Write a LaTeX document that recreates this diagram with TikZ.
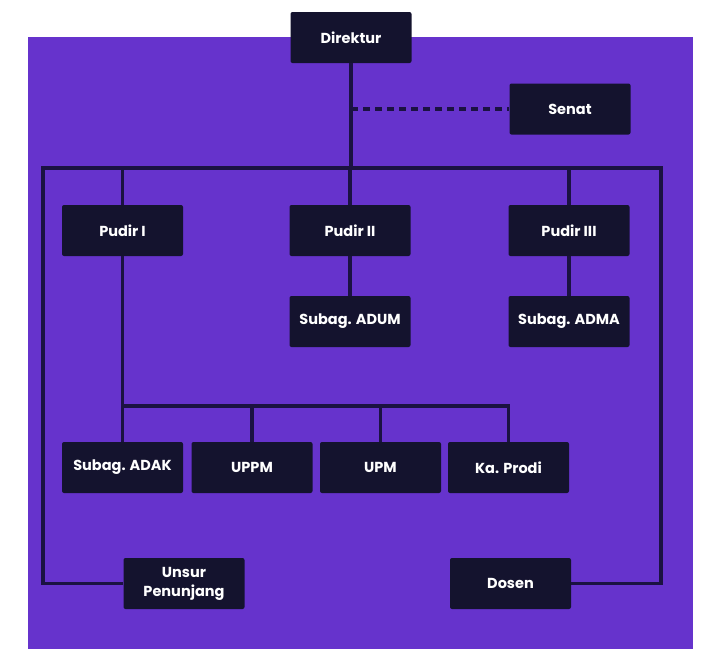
\documentclass[tikz,border=0pt]{standalone}
\usepackage{fontspec}
\setmainfont{Poppins}
\definecolor{bgpurple}{HTML}{6633CC}
\definecolor{boxnavy}{HTML}{14132E}
\definecolor{linenavy}{HTML}{1B1242}
\tikzset{
  unit/.style={fill=boxnavy, text=white, rounded corners=2pt,
    minimum width=121pt, minimum height=51pt, inner sep=2pt,
    font=\bfseries\fontsize{14.5}{19}\selectfont, align=center},
  link/.style={draw=linenavy, line width=3.2pt}
}
\begin{document}
\begin{tikzpicture}[x=1pt,y=-1pt]
  \useasboundingbox (0,0) rectangle (720,662);
  \fill[white] (0,0) rectangle (720,662);
  \fill[bgpurple] (28,37) rectangle (693,649);

  % top
  \node[unit] (dir) at (351,37.5) {Direktur};
  \node[unit] (senat) at (570,109) {Senat};

  % pudir row
  \node[unit] (pudir1) at (122.5,230.5) {Pudir I};
  \node[unit] (pudir2) at (350,230.5) {Pudir II};
  \node[unit] (pudir3) at (569,230.5) {Pudir III};
  \node[unit] (adum) at (350,321.5) {Subag. ADUM};
  \node[unit] (adma) at (569,321.5) {Subag. ADMA};

  % under pudir I
  \node[unit] (adak) at (122.5,467.5) {Subag. ADAK};
  \node[unit] (uppm) at (252,467.5) {UPPM};
  \node[unit] (upm) at (380.5,467.5) {UPM};
  \node[unit] (prodi) at (508.5,467.5) {Ka. Prodi};

  \node[unit] (unsur) at (184,583.5) {Unsur\\Penunjang};
  \node[unit] (dosen) at (510.5,583.5) {Dosen};

  \coordinate (hub) at (351,168);
  \coordinate (lft) at (43,168);
  \coordinate (rgt) at (661,168);
  \coordinate (lowbus) at (122.5,406);

  \draw[link] (dir.south) -- (hub);
  \draw[link, dash pattern=on 7pt off 5pt] (dir.south |- senat.west) -- (senat.west);
  \draw[link] (unsur.west) -| (lft) -- (rgt) |- (dosen.east);
  \draw[link] (pudir1.north |- hub) -- (pudir1.north);
  \draw[link] (pudir2.north |- hub) -- (pudir2.north);
  \draw[link] (pudir3.north |- hub) -- (pudir3.north);
  \draw[link] (pudir2) -- (adum);
  \draw[link] (pudir3) -- (adma);

  \draw[link] (pudir1.south) -- (adak.north);
  \draw[link] (lowbus) -| (prodi.north);
  \draw[link] (uppm.north |- lowbus) -- (uppm.north);
  \draw[link] (upm.north |- lowbus) -- (upm.north);
\end{tikzpicture}
\end{document}
